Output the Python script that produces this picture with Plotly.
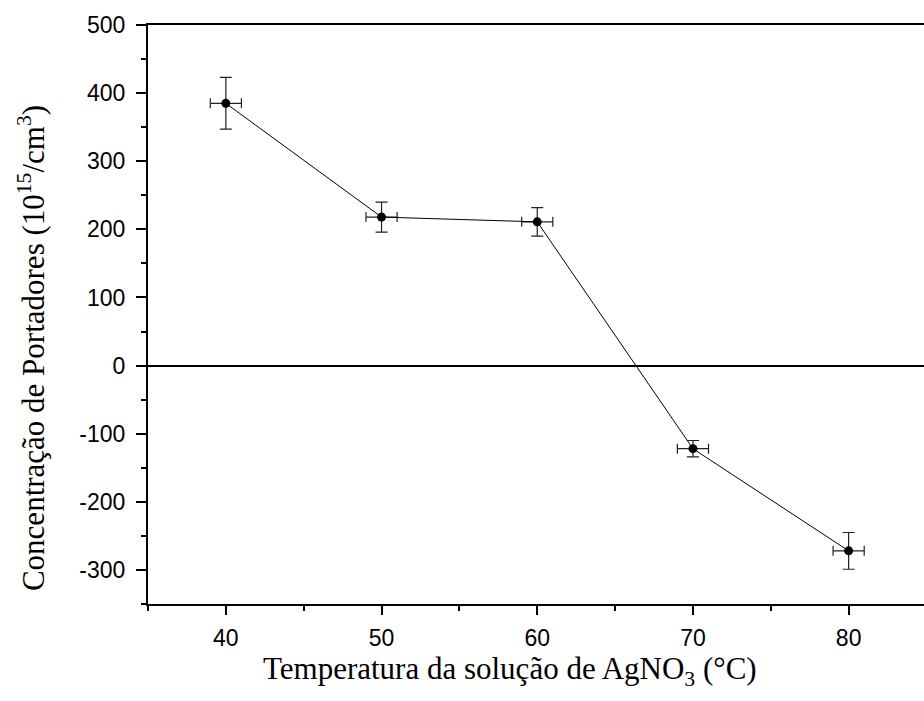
import plotly.graph_objects as go

temps = [40, 50, 60, 70, 80]
conc = [385, 218, 211, -122, -272]
conc_err = [38, 22, 21, 12, 27]
temp_err = [1, 1, 1, 1, 1]

x_ticks = [40, 50, 60, 70, 80]
y_ticks = [-300, -200, -100, 0, 100, 200, 300, 400, 500]
y_ticktext = ["-300", "-200", "-100", "0", "100", "200", "300", "400", "500"]

x_title = "Temperatura da solução de AgNO<sub>3</sub> (°C)"
y_title = "Concentração de Portadores (10<sup>15</sup>/cm<sup>3</sup>)"

fig = go.Figure()
fig.add_trace(go.Scatter(
    x=temps, y=conc, mode="lines+markers",
    line=dict(color="black", width=1),
    marker=dict(color="black", size=9),
    error_y=dict(type="data", array=conc_err, color="#222", thickness=1.2, width=6),
    error_x=dict(type="data", array=temp_err, color="#222", thickness=1.2, width=5),
    showlegend=False,
))

title_font = dict(family="Liberation Serif, Times New Roman", size=31, color="black")

fig.update_layout(
    width=924, height=701,
    margin=dict(l=148, r=0, t=25, b=97),
    plot_bgcolor="white", paper_bgcolor="white",
    font=dict(family="Liberation Sans, Arial", size=20, color="black"),
    xaxis=dict(
        range=[35, 84.84], tickvals=x_ticks,
        showline=True, linecolor="black", linewidth=2, mirror=True,
        ticks="outside", ticklen=9, tickwidth=2, tickcolor="black",
        ticklabelstandoff=3,
        minor=dict(dtick=5, tick0=35, ticks="outside", ticklen=5, tickwidth=2, tickcolor="black"),
        showgrid=False, zeroline=False,
        tickfont=dict(family="Liberation Sans, Arial", size=23),
    ),
    yaxis=dict(
        range=[-350, 500], tickvals=y_ticks, ticktext=y_ticktext,
        showline=True, linecolor="black", linewidth=2,
        ticks="outside", ticklen=10, tickwidth=2, tickcolor="black",
        ticklabelstandoff=6,
        minor=dict(dtick=50, tick0=0, ticks="outside", ticklen=5, tickwidth=2, tickcolor="black"),
        showgrid=False, zeroline=True, zerolinecolor="black", zerolinewidth=2,
        tickfont=dict(family="Liberation Sans, Arial", size=23),
    ),
    annotations=[
        dict(text=x_title, xref="paper", yref="paper", x=0.4665, y=-0.0785,
             xanchor="center", yanchor="top", showarrow=False, font=title_font),
        dict(text=y_title, xref="paper", yref="paper", x=-0.1508, y=0.442,
             xanchor="center", yanchor="middle", textangle=-90, showarrow=False, font=title_font),
    ],
)

fig.write_html("out.html", config={"displayModeBar": False},
               post_script="document.body.style.margin='0';document.body.style.overflow='hidden';")
